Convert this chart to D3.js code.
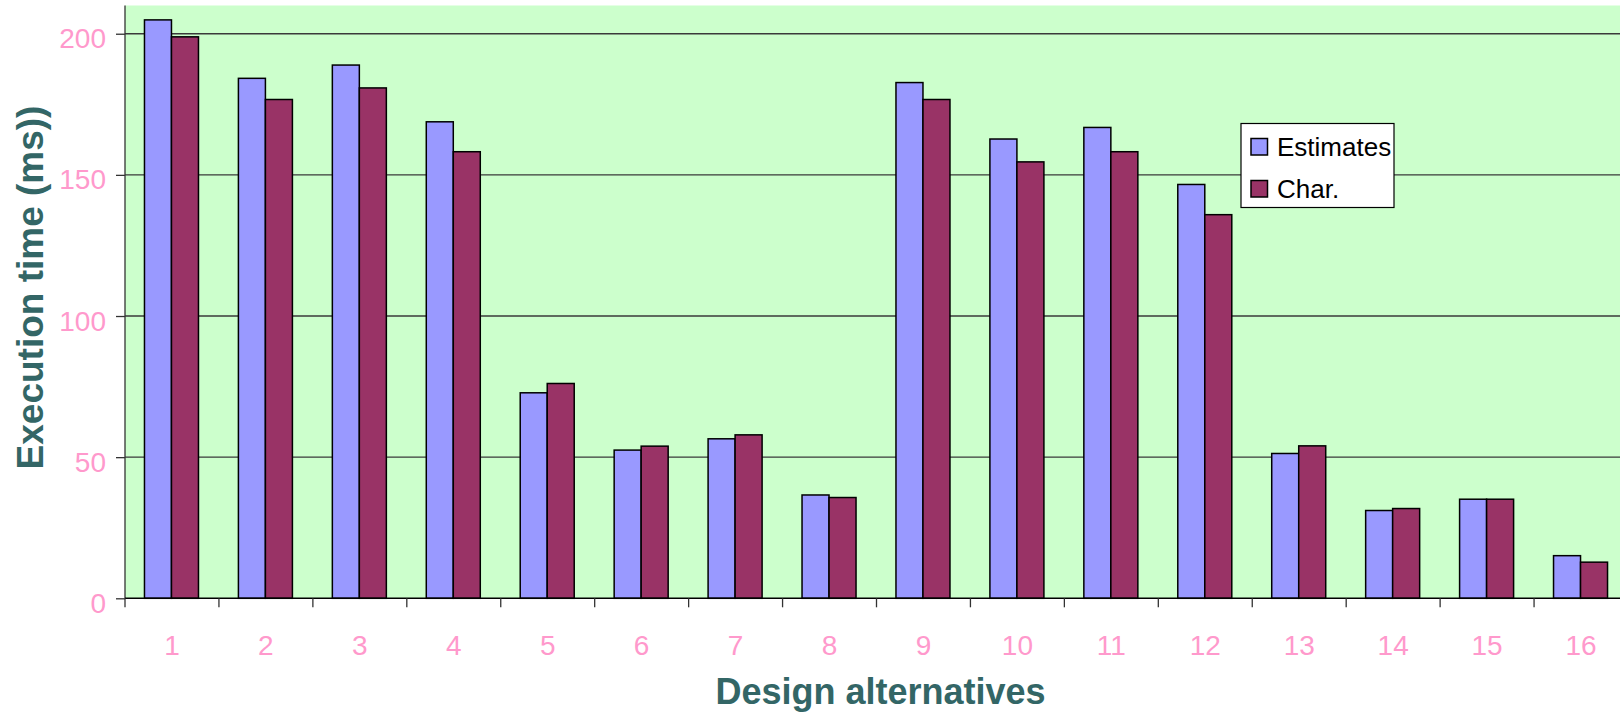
<!DOCTYPE html>
<html>
<head>
<meta charset="utf-8">
<script src="https://cdn.jsdelivr.net/npm/d3@7"></script>
<style>
  html, body { margin: 0; padding: 0; background: #ffffff; }
  svg { display: block; font-family: "Liberation Sans", Arial, sans-serif; }
</style>
</head>
<body>
<svg id="chart" width="1620" height="712"></svg>
<script>
// Execution time per design alternative: estimates vs. characterised values
const categories = ["1","2","3","4","5","6","7","8","9","10","11","12","13","14","15","16"];
const seriesNames = ["Estimates", "Char."];
const estimates = [204.9, 184.2, 188.9, 168.8, 72.8, 52.5, 56.5, 36.6, 182.7, 162.7, 166.8, 146.6, 51.3, 31.1, 35.1, 15.1];
const charValues = [198.9, 176.7, 180.8, 158.2, 76.1, 53.9, 57.9, 35.7, 176.7, 154.6, 158.2, 135.9, 54.0, 31.8, 35.1, 12.8];
const yTicks = [0, 50, 100, 150, 200];

const colors = { "Estimates": "#9999ff", "Char.": "#993366" };
const rows = categories.map((c, i) => ({ cat: c, "Estimates": estimates[i], "Char.": charValues[i] }));

const svg = d3.select("#chart");
const plotLeft = 125, plotRight = 1628, plotBottom = 598.3, plotTop = 5.5;

const x = d3.scaleBand().domain(categories).range([plotLeft, plotRight]).paddingInner(0).paddingOuter(0);
const y = d3.scaleLinear().domain([0, 210]).range([plotBottom, plotTop]);
const groupWidth = 54;
const x1 = d3.scaleBand().domain(seriesNames).range([0, groupWidth]);

// plot background
svg.append("rect")
  .attr("x", plotLeft).attr("y", y(210))
  .attr("width", plotRight - plotLeft).attr("height", y(0) - y(210))
  .attr("fill", "#ccffcc");

// horizontal gridlines
svg.append("g").selectAll("line")
  .data(yTicks.filter(d => d > 0))
  .join("line")
  .attr("x1", plotLeft).attr("x2", plotRight)
  .attr("y1", d => y(d)).attr("y2", d => y(d))
  .attr("stroke", "#3a3a3a").attr("stroke-width", 1.3);

// bars
const groups = svg.append("g").selectAll("g")
  .data(rows)
  .join("g")
  .attr("transform", d => `translate(${x(d.cat) + (x.bandwidth() - groupWidth) / 2 - 0.5},0)`);

groups.selectAll("rect")
  .data(d => seriesNames.map(s => ({ s, v: d[s] })))
  .join("rect")
  .attr("x", d => x1(d.s))
  .attr("y", d => y(d.v))
  .attr("width", x1.bandwidth())
  .attr("height", d => y(0) - y(d.v))
  .attr("fill", d => colors[d.s])
  .attr("stroke", "#000000")
  .attr("stroke-width", 1.5);

// y axis
const yAxis = d3.axisLeft(y).tickValues(yTicks).tickSize(9).tickPadding(10);
const gy = svg.append("g").attr("transform", `translate(${plotLeft},0)`).call(yAxis);
gy.select(".domain").attr("stroke", "#333333").attr("stroke-width", 1.3)
  .attr("d", `M0,${y(0)}V${y(210)}`);
gy.selectAll(".tick line").attr("stroke", "#333333").attr("stroke-width", 1.3);
gy.selectAll(".tick text")
  .attr("fill", "#ff99cc").attr("font-size", 28)
  .attr("font-family", "Liberation Sans, Arial, sans-serif")
  .attr("dy", null).attr("dominant-baseline", "auto")
  .attr("y", 14);

// x axis: ticks sit on band boundaries, labels centred in bands
const gx = svg.append("g").attr("transform", `translate(0,${plotBottom})`);
gx.append("line")
  .attr("x1", plotLeft).attr("x2", plotRight)
  .attr("stroke", "#000000").attr("stroke-width", 1.5);
gx.selectAll("line.tick")
  .data(categories)
  .join("line")
  .attr("class", "tick")
  .attr("x1", d => x(d)).attr("x2", d => x(d))
  .attr("y1", 0).attr("y2", 9)
  .attr("stroke", "#333333").attr("stroke-width", 1.3);
gx.selectAll("text")
  .data(categories)
  .join("text")
  .attr("x", d => x(d) + x.bandwidth() / 2)
  .attr("y", 57)
  .attr("text-anchor", "middle")
  .attr("fill", "#ff99cc")
  .attr("font-size", 28)
  .text(d => d);

// axis titles
svg.append("text")
  .attr("x", (plotLeft + plotRight) / 2 + 4)
  .attr("y", 703.5)
  .attr("text-anchor", "middle")
  .attr("font-size", 36).attr("font-weight", "bold")
  .attr("fill", "#336666")
  .text("Design alternatives");

svg.append("text")
  .attr("transform", "translate(42.5,287.5) rotate(-90)")
  .attr("text-anchor", "middle")
  .attr("font-size", 37).attr("font-weight", "bold")
  .attr("fill", "#336666")
  .text("Execution time (ms))");

// legend
const legend = svg.append("g").attr("transform", "translate(1241,123.5)");
legend.append("rect")
  .attr("width", 153).attr("height", 84)
  .attr("fill", "#ffffff").attr("stroke", "#000000").attr("stroke-width", 1.2);
const items = legend.selectAll("g.item")
  .data(seriesNames)
  .join("g")
  .attr("class", "item")
  .attr("transform", (d, i) => `translate(10,${15 + i * 42})`);
items.append("rect")
  .attr("width", 16.5).attr("height", 16.5)
  .attr("fill", d => colors[d])
  .attr("stroke", "#000000").attr("stroke-width", 1.5);
items.append("text")
  .attr("x", 26).attr("y", 17.5)
  .attr("font-size", 26)
  .attr("fill", "#000000")
  .text(d => d);
</script>
</body>
</html>
